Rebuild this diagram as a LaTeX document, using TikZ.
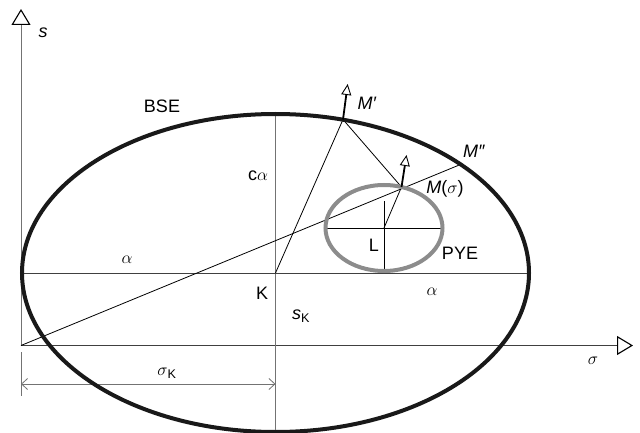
\documentclass[tikz,border=0pt]{standalone}
\usepackage{fontspec}
\setmainfont{Liberation Sans}
\usetikzlibrary{arrows.meta}
\begin{document}
\begin{tikzpicture}[x=1pt,y=-1pt,
  thinline/.style={line width=0.8pt, black},
  grayline/.style={line width=0.9pt, black!55},
  darkline/.style={line width=0.9pt, black!75},
  lab/.style={font=\fontsize{18}{20}\selectfont, inner sep=0pt},
  axistip/.style={-{Triangle[open,length=16pt,width=19pt,line width=1.1pt,color=black]}},
  smalltip/.style={-{Triangle[open,length=11pt,width=10pt,line width=0.9pt]}, line width=1.8pt},
  dimtip/.style={{Straight Barb[length=6pt,width=11pt,line width=0.8pt]}-{Straight Barb[length=6pt,width=11pt,line width=0.8pt]}}
]
\useasboundingbox (0,0) rectangle (640,433);
% points
\coordinate (O) at (21,345.5);
\coordinate (Stop) at (21,9);
\coordinate (Sigend) at (633,345.5);
\coordinate (K) at (275.5,273);
\coordinate (Kl) at (22,273);
\coordinate (Kr) at (529,273);
\coordinate (Kt) at (275.5,114);
\coordinate (Kb) at (275.5,433);
\coordinate (L) at (384,228);
\coordinate (Ll) at (325.5,228);
\coordinate (Lr) at (442.5,228);
\coordinate (Lt) at (384,201);
\coordinate (Lb) at (384,271);
\coordinate (M1) at (343,119.5);
\coordinate (M2) at (460.7,164.4);
\coordinate (Ms) at (401.5,187);
\coordinate (M1a) at (347.7,84);
\coordinate (Msa) at (406.5,155);
\coordinate (T1) at (21,352);
\coordinate (T2) at (21,396);
\coordinate (D1) at (21,384);
\coordinate (D2) at (275.5,384);

% axes
\draw[grayline, axistip] (O) -- (Stop);
\draw[darkline, axistip] (O) -- (Sigend);
% dimension
\draw[grayline] (T1) -- (T2);
\draw[grayline, dimtip] (D1) -- (D2);
% center lines of BSE
\draw[grayline] (Kt) -- (Kb);
\draw[darkline] (Kl) -- (Kr);
% construction lines
\draw[thinline] (O) -- (M2);
\draw[thinline] (K) -- (M1);
\draw[thinline] (M1) -- (Ms);
\draw[thinline] (L) -- (Ms);
\draw[thinline] (Ll) -- (Lr);
\draw[thinline] (Lt) -- (Lb);
% ellipses
\draw[line width=4pt, black!90] (K) ellipse [x radius=253.5pt, y radius=159pt];
\draw[line width=4pt, black!45] (L) ellipse [x radius=58.5pt, y radius=43pt];
% normal arrows
\draw[smalltip] (M1) -- (M1a);
\draw[smalltip] (Ms) -- (Msa);

% labels
\node[lab] (ls) at (43,33) {\textit{s}};
\node[lab] (lbse) at (162,106) {BSE};
\node[lab] (lm1) at (367,103) {\textit{M′}};
\node[lab] (lm2) at (474,151) {\textit{M″}};
\node[lab] (lms) at (445,189) {\textit{M}($\sigma$)};
\node[lab] (lca) at (258,176) {c$\alpha$};
\node[lab] (la1) at (127,260) {$\alpha$};
\node[lab] (la2) at (432,292) {$\alpha$};
\node[lab] (lk) at (262,293) {K};
\node[lab] (lsk) at (301,316) {\textit{s}\textsubscript{K}};
\node[lab] (ll) at (374,245) {L};
\node[lab] (lpye) at (460,253) {PYE};
\node[lab] (lsig) at (593,361) {$\sigma$};
\node[lab] (lsk2) at (167,373) {$\sigma$\textsubscript{K}};
\end{tikzpicture}
\end{document}
